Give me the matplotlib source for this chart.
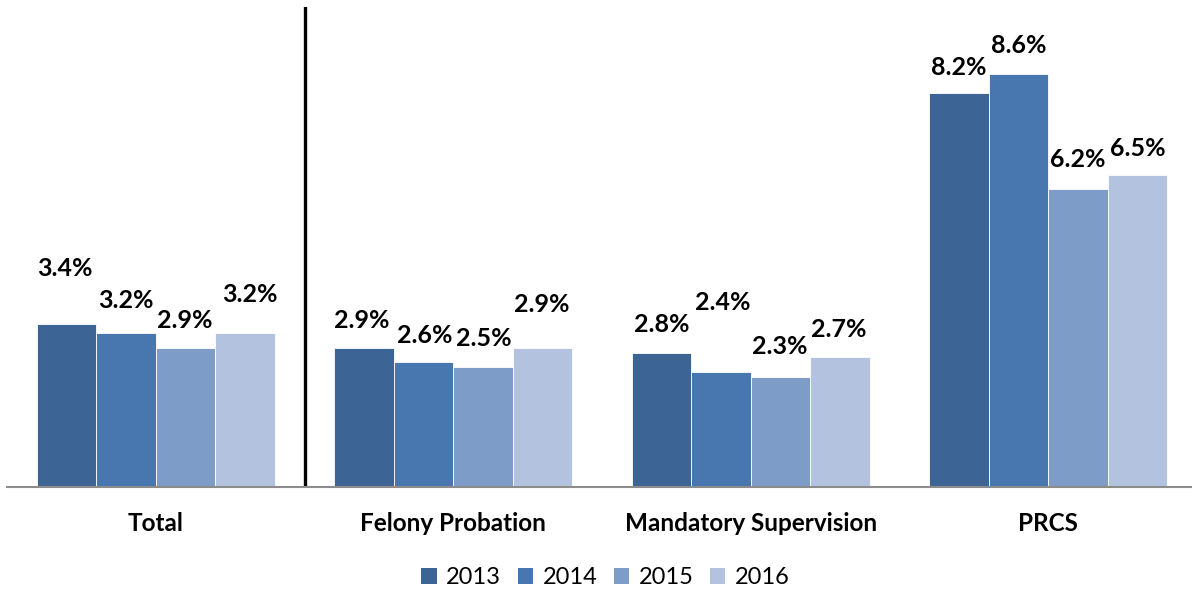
import numpy as np
import matplotlib.pyplot as plt
from matplotlib.patches import Patch

categories = ["Total", "Felony Probation", "Mandatory Supervision", "PRCS"]
years = ["2013", "2014", "2015", "2016"]
rate_2013 = [3.4, 2.9, 2.8, 8.2]
rate_2014 = [3.2, 2.6, 2.4, 8.6]
rate_2015 = [2.9, 2.5, 2.3, 6.2]
rate_2016 = [3.2, 2.9, 2.7, 6.5]

colors = ["#3C6595", "#4877B0", "#7E9CC8", "#B3C3DF"]

# label placement above each bar (x, y offset in pixels), rows = year
label_offsets = [
    [(-2, 55), (-2, 27), (0, 28), (0, 26)],
    [(0, 33), (1, 27), (2, 69), (0, 29)],
    [(-1, 27), (1, 28), (-1, 30), (0, 30)],
    [(5, 39), (-1, 43), (-1, 28), (0, 27)],
]

plt.rcParams["font.family"] = ["Lato", "DejaVu Sans"]

fig = plt.figure(figsize=(11.92, 5.93), dpi=100)
ax = fig.add_axes([7 / 1192, 106 / 593, 1185 / 1192, 480 / 593])

x = np.arange(len(categories))
width = 0.2
series = [rate_2013, rate_2014, rate_2015, rate_2016]

for i, vals in enumerate(series):
    pos = x + (i - 1.5) * width
    ax.bar(pos, vals, width, color=colors[i], edgecolor="white", linewidth=0.6)
    for j, v in enumerate(vals):
        dx, dy = label_offsets[i][j]
        ax.annotate(f"{v:.1f}%", (pos[j], v), xytext=(dx, dy),
                    textcoords="offset pixels", ha="center", va="center",
                    fontsize=18, fontweight="bold", color="black")

ax.axvline(0.5, ymin=0.003, ymax=1.0, color="black", linewidth=2.4)

ax.set_xlim(-0.5, 3.483)
ax.set_ylim(0, 10)
for side in ["top", "right", "left"]:
    ax.spines[side].set_visible(False)
ax.spines["bottom"].set_color("#8C8C8C")
ax.spines["bottom"].set_linewidth(1.5)
ax.set_yticks([])
ax.set_xticks(x)
ax.set_xticklabels(categories, fontsize=17.5, fontweight="bold")
ax.tick_params(axis="x", length=0, pad=18)

handles = [Patch(facecolor=c, edgecolor="none") for c in colors]
fig.legend(handles, years, loc="center", bbox_to_anchor=(0.508, 1 - 578 / 593),
           ncol=4, frameon=False, fontsize=17, handlelength=0.65,
           handleheight=0.65, handletextpad=0.4, columnspacing=0.7)

fig.savefig("out.png", dpi=100)
